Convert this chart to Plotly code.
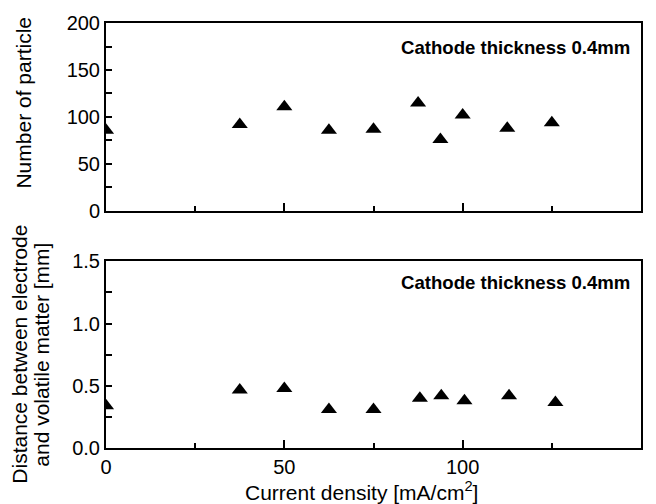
import plotly.graph_objects as go

# Data
current_top = [0, 37.5, 50, 62.5, 75, 87.5, 93.75, 100, 112.5, 125]
particles = [86, 92, 111, 86, 87, 115, 76, 102, 88, 94]

current_bot = [0, 37.5, 50, 62.5, 75, 88, 94, 100.5, 113, 126]
distance = [0.34, 0.465, 0.478, 0.31, 0.31, 0.40, 0.42, 0.38, 0.42, 0.365]

x_range = [0, 150]
top_y_range = [0, 200]
bot_y_range = [0, 1.5]

top_y_tickvals = [0, 25, 50, 75, 100, 125, 150, 175, 200]
top_y_ticktext = ["0", "", "50", "", "100", "", "150", "", "200"]
bot_y_tickvals = [0, 0.25, 0.5, 0.75, 1.0, 1.25, 1.5]
bot_y_ticktext = ["0.0", "", "0.5", "", "1.0", "", "1.5"]

label_text = "Cathode thickness 0.4mm"
top_ytitle = "Number of particle"
bot_ytitle_1 = "Distance between electrode"
bot_ytitle_2 = "and volatile matter [mm]"
x_title = "Current density [mA/cm<sup>2</sup>]"

FONT = "Liberation Sans, Arial, Helvetica, sans-serif"

fig = go.Figure()

marker = dict(symbol="triangle-up", size=14, color="black", line=dict(width=0))
fig.add_trace(go.Scatter(x=current_top, y=particles, mode="markers", marker=marker,
                         showlegend=False, xaxis="x", yaxis="y"))
fig.add_trace(go.Scatter(x=current_bot, y=distance, mode="markers", marker=marker,
                         showlegend=False, xaxis="x2", yaxis="y2"))

tickfont = dict(family=FONT, size=20, color="black")


def xaxis(labels, **kw):
    d = dict(range=x_range, showline=True, linecolor="black", linewidth=2, mirror=True,
             ticks="inside", ticklen=8, tickwidth=2, tickcolor="black",
             showgrid=False, zeroline=False, tickmode="linear", tick0=0, dtick=50,
             showticklabels=labels, tickfont=tickfont,
             minor=dict(ticks="inside", tick0=0, dtick=25, ticklen=5,
                        tickwidth=2, tickcolor="black", showgrid=False))
    d.update(kw)
    return d


def yaxis(rng, vals, text, **kw):
    d = dict(range=rng, showline=True, linecolor="black", linewidth=2, mirror=True,
             ticks="inside", ticklen=6, tickwidth=2, tickcolor="black",
             showgrid=False, zeroline=False, tickmode="array", tickvals=vals,
             ticktext=text, tickfont=tickfont)
    d.update(kw)
    return d


fig.update_layout(
    template="simple_white",
    width=656, height=504,
    margin=dict(l=106, r=15, t=20, b=56),
    paper_bgcolor="white", plot_bgcolor="white",
    font=dict(family=FONT, color="black"),
    showlegend=False,
    xaxis=xaxis(False, domain=[0, 1], anchor="y"),
    yaxis=yaxis(top_y_range, top_y_tickvals, top_y_ticktext,
                domain=[0.5577, 1.0], anchor="x"),
    xaxis2=xaxis(True, domain=[0, 1], anchor="y2"),
    yaxis2=yaxis(bot_y_range, bot_y_tickvals, bot_y_ticktext,
                 domain=[0.0, 0.4393], anchor="x2"),
)

ann_font = dict(family=FONT, size=21, color="black")
lab_font = dict(family=FONT, size=18.6, color="black")
fig.add_annotation(text="<b>" + label_text + "</b>", xref="paper", yref="paper",
                   x=0.9826, y=0.9416, xanchor="right", yanchor="middle",
                   showarrow=False, font=lab_font)
fig.add_annotation(text="<b>" + label_text + "</b>", xref="paper", yref="paper",
                   x=0.9826, y=0.3886, xanchor="right", yanchor="middle",
                   showarrow=False, font=lab_font)
fig.add_annotation(text=top_ytitle, xref="paper", yref="paper", textangle=-90,
                   x=-0.155, y=0.813, xanchor="center", yanchor="middle",
                   showarrow=False, font=ann_font)
fig.add_annotation(text=bot_ytitle_1, xref="paper", yref="paper", textangle=-90,
                   x=-0.1607, y=0.2196, xanchor="center", yanchor="middle",
                   showarrow=False, font=ann_font)
fig.add_annotation(text=bot_ytitle_2, xref="paper", yref="paper", textangle=-90,
                   x=-0.1196, y=0.2196, xanchor="center", yanchor="middle",
                   showarrow=False, font=ann_font)
fig.add_annotation(text=x_title, xref="paper", yref="paper",
                   x=0.4785, y=-0.1, xanchor="center", yanchor="middle",
                   showarrow=False, font=ann_font)

fig.write_html("out.html")
